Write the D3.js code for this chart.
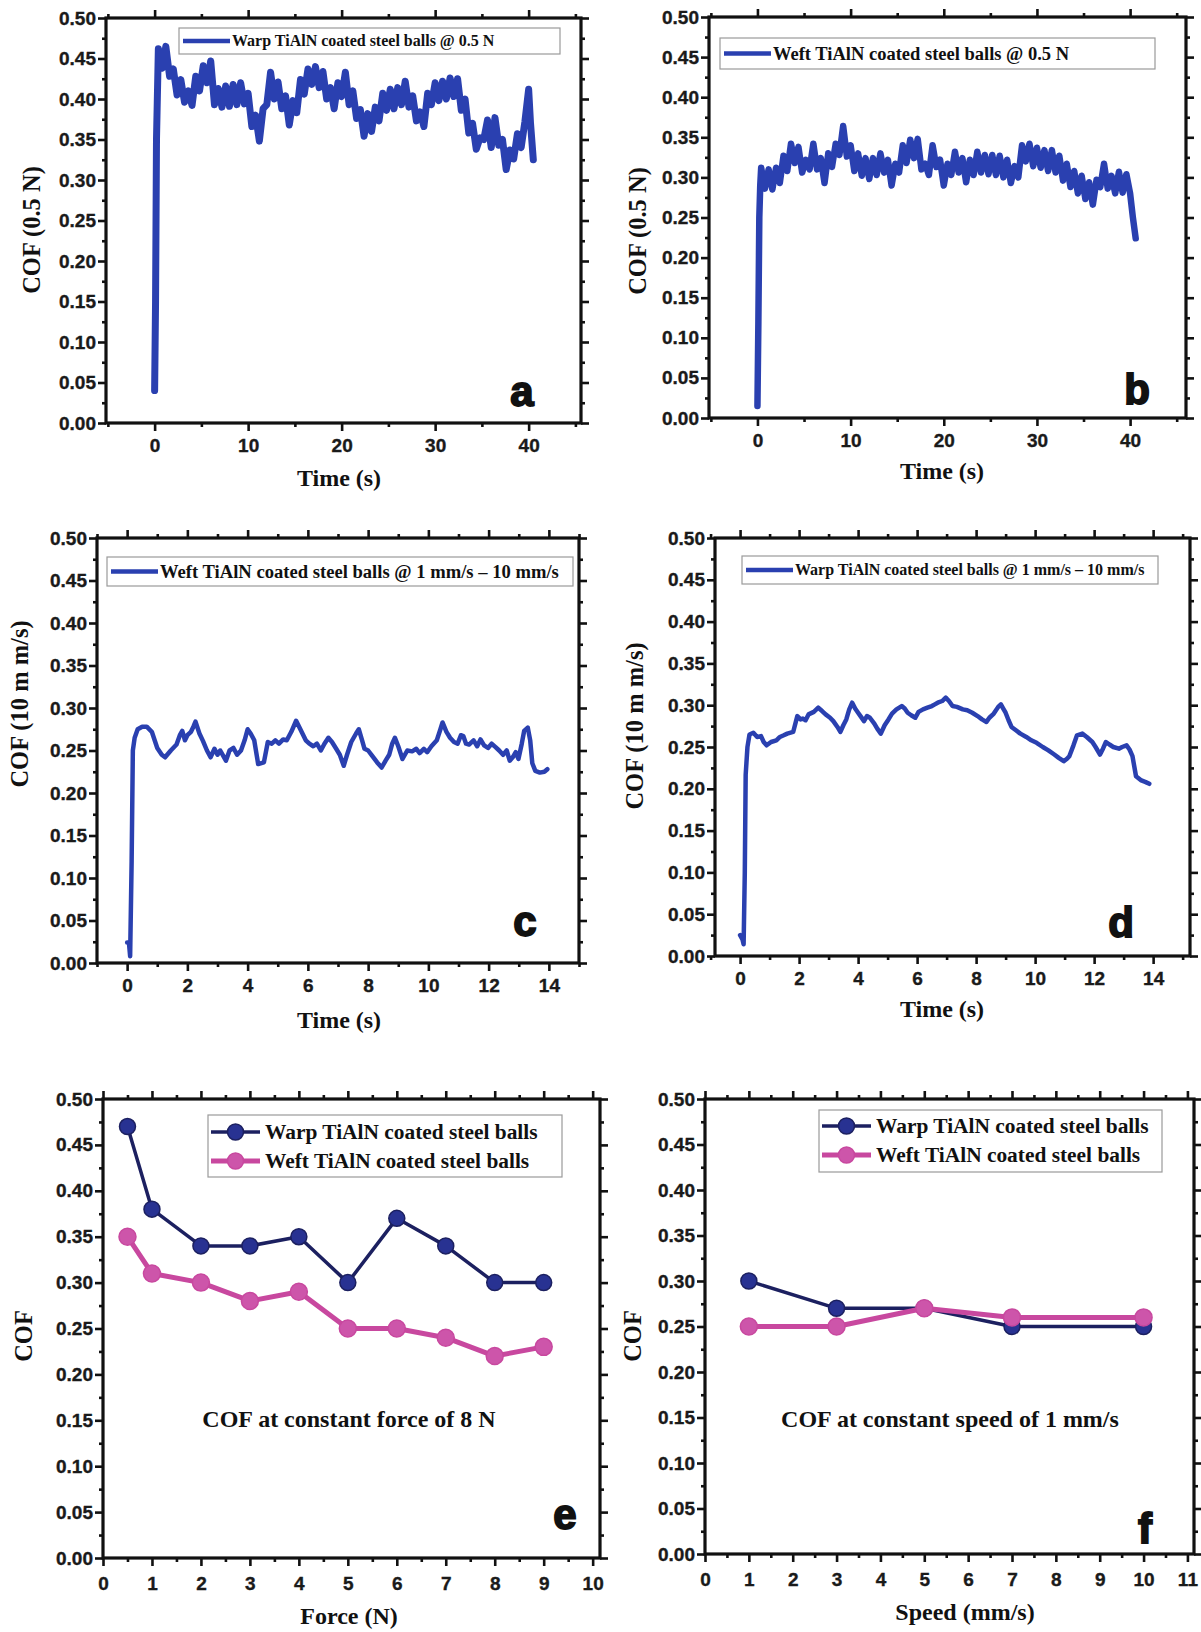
<!DOCTYPE html>
<html><head><meta charset="utf-8">
<script src="https://cdn.jsdelivr.net/npm/d3@7"></script>
<style>
html,body{margin:0;padding:0;background:#fff;}
svg{display:block;}
.tick text{font-family:"Liberation Sans",Arial,sans-serif;font-weight:bold;font-size:19px;fill:#1a1a1a;stroke:#1a1a1a;stroke-width:0.35px;}
.serif{font-family:"Liberation Serif","Times New Roman",serif;font-weight:bold;fill:#111;}
.letter{font-family:"Liberation Sans",Arial,sans-serif;font-weight:bold;fill:#111;stroke:#111;stroke-width:1.8px;}
</style></head><body>
<svg id="chart" width="1201" height="1632"></svg>
<script>
// ---------------- DATA ----------------
const yTickValues = [0,0.05,0.10,0.15,0.20,0.25,0.30,0.35,0.40,0.45,0.50];
const yMinorValues = [0.025,0.075,0.125,0.175,0.225,0.275,0.325,0.375,0.425,0.475];
const timeTicksLong = [0,10,20,30,40];
const timeMinorLong = [-5,5,15,25,35,45];
const timeTicksShort = [0,2,4,6,8,10,12,14];
const timeMinorShort = [-1,1,3,5,7,9,11,13,15];
const forceTicks = [0,1,2,3,4,5,6,7,8,9,10];
const forceMinor = [0.5,1.5,2.5,3.5,4.5,5.5,6.5,7.5,8.5,9.5];
const speedTicks = [0,1,2,3,4,5,6,7,8,9,10,11];
const speedMinor = [0.5,1.5,2.5,3.5,4.5,5.5,6.5,7.5,8.5,9.5,10.5];

// (a) Warp TiAlN @ 0.5 N : [time s, COF]
const warpHalfN = [[0,0.04],[0.1,0.15],[0.2,0.35],[0.4,0.462],[0.8,0.438],[1.2,0.465],[1.6,0.428],[2.0,0.437],[2.4,0.405],[2.8,0.424],[3.2,0.396],[3.6,0.410],[4.0,0.392],[4.4,0.428],[4.8,0.410],[5.2,0.441],[5.6,0.420],[6.0,0.447],[6.4,0.393],[6.8,0.413],[7.2,0.390],[7.6,0.416],[8.0,0.391],[8.4,0.418],[8.8,0.393],[9.2,0.420],[9.6,0.394],[10.0,0.407],[10.4,0.366],[10.8,0.380],[11.2,0.348],[11.6,0.388],[12.0,0.393],[12.4,0.433],[12.8,0.400],[13.2,0.421],[13.6,0.388],[14.0,0.404],[14.4,0.368],[14.8,0.398],[15.2,0.383],[15.6,0.424],[16.0,0.406],[16.4,0.437],[16.8,0.418],[17.2,0.440],[17.6,0.414],[18.0,0.434],[18.4,0.400],[18.8,0.414],[19.2,0.388],[19.6,0.420],[20.0,0.403],[20.4,0.433],[20.8,0.393],[21.2,0.410],[21.6,0.376],[22.0,0.387],[22.4,0.354],[22.8,0.382],[23.2,0.360],[23.6,0.390],[24.0,0.373],[24.4,0.407],[24.8,0.386],[25.2,0.412],[25.6,0.388],[26.0,0.414],[26.4,0.393],[26.8,0.422],[27.2,0.390],[27.6,0.404],[28.0,0.373],[28.4,0.384],[28.8,0.366],[29.2,0.407],[29.6,0.393],[30.0,0.420],[30.4,0.398],[30.8,0.422],[31.2,0.400],[31.6,0.426],[32.0,0.403],[32.4,0.425],[32.8,0.386],[33.2,0.400],[33.6,0.358],[34.0,0.370],[34.4,0.338],[34.8,0.352],[35.2,0.350],[35.6,0.374],[36.0,0.340],[36.4,0.377],[36.8,0.343],[37.2,0.350],[37.6,0.313],[38.0,0.337],[38.4,0.326],[38.8,0.357],[39.2,0.340],[39.6,0.372],[40.0,0.412],[40.2,0.370],[40.5,0.325]];

// (b) Weft TiAlN @ 0.5 N
const weftHalfN = [[0,0.015],[0.1,0.12],[0.2,0.25],[0.3,0.29],[0.4,0.312],[0.8,0.286],[1.2,0.310],[1.6,0.285],[2.0,0.312],[2.4,0.293],[2.8,0.327],[3.2,0.308],[3.6,0.342],[4.0,0.318],[4.4,0.338],[4.8,0.306],[5.2,0.322],[5.6,0.310],[6.0,0.342],[6.4,0.310],[6.8,0.324],[7.2,0.293],[7.6,0.330],[8.0,0.313],[8.4,0.342],[8.8,0.328],[9.2,0.364],[9.6,0.326],[10.0,0.340],[10.4,0.308],[10.8,0.330],[11.2,0.302],[11.6,0.324],[12.0,0.298],[12.4,0.324],[12.8,0.303],[13.2,0.330],[13.6,0.306],[14.0,0.322],[14.4,0.290],[14.8,0.317],[15.2,0.306],[15.6,0.340],[16.0,0.318],[16.4,0.347],[16.8,0.324],[17.2,0.348],[17.6,0.310],[18.0,0.317],[18.4,0.303],[18.8,0.340],[19.2,0.313],[19.6,0.322],[20.0,0.290],[20.4,0.317],[20.8,0.303],[21.2,0.332],[21.6,0.306],[22.0,0.324],[22.4,0.294],[22.8,0.322],[23.2,0.303],[23.6,0.332],[24.0,0.306],[24.4,0.328],[24.8,0.304],[25.2,0.328],[25.6,0.303],[26.0,0.327],[26.4,0.300],[26.8,0.322],[27.2,0.293],[27.6,0.314],[28.0,0.300],[28.4,0.340],[28.8,0.320],[29.2,0.342],[29.6,0.314],[30.0,0.337],[30.4,0.312],[30.8,0.334],[31.2,0.308],[31.6,0.334],[32.0,0.306],[32.4,0.327],[32.8,0.296],[33.2,0.317],[33.6,0.288],[34.0,0.308],[34.4,0.280],[34.8,0.302],[35.2,0.273],[35.6,0.294],[36.0,0.266],[36.4,0.297],[36.8,0.288],[37.2,0.317],[37.6,0.286],[38.0,0.302],[38.4,0.280],[38.8,0.307],[39.2,0.281],[39.6,0.304],[40.0,0.280],[40.3,0.250],[40.6,0.224]];

// (c) Weft TiAlN @ 1 mm/s - 10 mm/s
const weftSpeedSweep = [[0,0.024],[0.06,0.024],[0.1,0.008],[0.15,0.12],[0.19,0.25],[0.25,0.265],[0.35,0.275],[0.5,0.278],[0.65,0.278],[0.82,0.272],[1.0,0.253],[1.15,0.245],[1.26,0.242],[1.45,0.250],[1.64,0.257],[1.75,0.268],[1.83,0.273],[1.92,0.262],[2.0,0.268],[2.12,0.272],[2.2,0.278],[2.27,0.284],[2.4,0.270],[2.52,0.261],[2.65,0.250],[2.77,0.242],[2.9,0.252],[3.0,0.245],[3.09,0.250],[3.2,0.243],[3.28,0.238],[3.4,0.250],[3.53,0.253],[3.65,0.245],[3.78,0.250],[3.9,0.262],[4.0,0.275],[4.1,0.270],[4.22,0.262],[4.35,0.234],[4.54,0.236],[4.67,0.260],[4.8,0.258],[4.92,0.262],[5.04,0.258],[5.18,0.263],[5.3,0.262],[5.45,0.272],[5.61,0.285],[5.75,0.275],[5.93,0.262],[6.05,0.258],[6.18,0.255],[6.3,0.258],[6.43,0.250],[6.55,0.258],[6.68,0.265],[6.8,0.260],[6.94,0.252],[7.06,0.245],[7.19,0.232],[7.3,0.245],[7.44,0.260],[7.6,0.270],[7.69,0.275],[7.8,0.262],[7.88,0.252],[8.0,0.250],[8.13,0.244],[8.3,0.236],[8.45,0.230],[8.58,0.238],[8.7,0.245],[8.8,0.258],[8.89,0.265],[9.0,0.255],[9.14,0.240],[9.3,0.250],[9.46,0.249],[9.6,0.252],[9.71,0.247],[9.85,0.252],[9.96,0.248],[10.1,0.255],[10.28,0.262],[10.4,0.275],[10.47,0.283],[10.6,0.272],[10.72,0.265],[10.85,0.260],[10.97,0.258],[11.08,0.268],[11.16,0.267],[11.25,0.258],[11.35,0.257],[11.5,0.262],[11.62,0.255],[11.73,0.263],[11.85,0.256],[11.98,0.253],[12.1,0.258],[12.23,0.254],[12.35,0.250],[12.48,0.245],[12.6,0.250],[12.7,0.238],[12.8,0.242],[12.9,0.248],[12.99,0.240],[13.1,0.258],[13.18,0.273],[13.3,0.277],[13.38,0.262],[13.45,0.235],[13.55,0.226],[13.7,0.224],[13.85,0.225],[13.95,0.228]];

// (d) Warp TiAlN @ 1 mm/s - 10 mm/s
const warpSpeedSweep = [[0,0.025],[0.08,0.02],[0.12,0.014],[0.16,0.10],[0.19,0.217],[0.25,0.25],[0.32,0.265],[0.45,0.267],[0.58,0.262],[0.71,0.263],[0.8,0.256],[0.9,0.252],[1.05,0.256],[1.23,0.258],[1.35,0.262],[1.48,0.264],[1.6,0.266],[1.8,0.268],[1.94,0.287],[2.05,0.283],[2.13,0.284],[2.22,0.282],[2.32,0.289],[2.5,0.292],[2.65,0.297],[2.78,0.293],[2.9,0.289],[3.05,0.285],[3.16,0.281],[3.3,0.274],[3.4,0.268],[3.5,0.276],[3.6,0.283],[3.7,0.295],[3.8,0.303],[3.9,0.296],[4.0,0.291],[4.1,0.286],[4.2,0.281],[4.3,0.287],[4.4,0.285],[4.55,0.278],[4.65,0.272],[4.77,0.266],[4.9,0.276],[5.03,0.283],[5.15,0.290],[5.3,0.295],[5.48,0.299],[5.58,0.296],[5.68,0.291],[5.8,0.288],[5.94,0.285],[6.05,0.292],[6.2,0.295],[6.35,0.297],[6.5,0.299],[6.6,0.301],[6.7,0.303],[6.85,0.305],[6.97,0.309],[7.08,0.305],[7.2,0.299],[7.35,0.298],[7.55,0.295],[7.7,0.294],[7.87,0.291],[8.05,0.287],[8.2,0.283],[8.35,0.280],[8.45,0.285],[8.6,0.290],[8.75,0.298],[8.84,0.301],[8.92,0.296],[9.0,0.291],[9.1,0.282],[9.2,0.274],[9.35,0.270],[9.5,0.266],[9.7,0.262],[9.87,0.258],[10.05,0.255],[10.26,0.250],[10.45,0.246],[10.65,0.241],[10.8,0.237],[10.97,0.233],[11.08,0.236],[11.16,0.239],[11.3,0.252],[11.42,0.264],[11.6,0.266],[11.75,0.262],[11.94,0.256],[12.05,0.250],[12.2,0.241],[12.3,0.248],[12.4,0.256],[12.52,0.253],[12.65,0.250],[12.84,0.248],[12.95,0.250],[13.1,0.252],[13.2,0.247],[13.3,0.239],[13.42,0.215],[13.6,0.210],[13.75,0.208],[13.87,0.206]];

// (e) COF vs force
const forceN = [0.5,1,2,3,4,5,6,7,8,9];
const warpByForce = [0.47,0.38,0.34,0.34,0.35,0.30,0.37,0.34,0.30,0.30];
const weftByForce = [0.35,0.31,0.30,0.28,0.29,0.25,0.25,0.24,0.22,0.23];

// (f) COF vs speed
const speedMmS = [1,3,5,7,10];
const warpBySpeed = [0.30,0.27,0.27,0.25,0.25];
const weftBySpeed = [0.25,0.25,0.27,0.26,0.26];

// text
const legendA = "Warp TiAlN coated steel balls @ 0.5 N";
const legendB = "Weft TiAlN coated steel balls @ 0.5 N";
const legendC = "Weft TiAlN coated steel balls @ 1 mm/s \u2013 10 mm/s";
const legendD = "Warp TiAlN coated steel balls @ 1 mm/s \u2013 10 mm/s";
const legendWarp = "Warp TiAlN coated steel balls";
const legendWeft = "Weft TiAlN coated steel balls";

// ---------------- STYLE ----------------
const BLUE = "#2a40b0";
const NAVY = "#1c2060";
const NAVY_M = "#283292";
const PINK = "#c8489f";
const PINK_M = "#cd55aa";

const svg = d3.select("#chart");
svg.append("rect").attr("width",1201).attr("height",1632).attr("fill","#fff");

function panel(cfg){
  const g = svg.append("g");
  const x = d3.scaleLinear().domain(cfg.xDomain).range([cfg.l, cfg.r]);
  const y = d3.scaleLinear().domain([0,0.5]).range([cfg.b, cfg.t]);
  const addAxis = (fn, scale, vals, size, fmt, tx, ty, pad) => {
    const a = g.append("g").attr("transform",`translate(${tx},${ty})`)
      .call(fn(scale).tickValues(vals).tickSize(size).tickSizeOuter(0).tickPadding(pad).tickFormat(fmt));
    a.select(".domain").remove();
    a.selectAll(".tick line").attr("stroke","#111").attr("stroke-width",2.6);
    return a;
  };
  const none = () => "";
  addAxis(d3.axisBottom, x, cfg.xMajor, 8, d3.format("d"), 0, cfg.b, cfg.xPad);
  addAxis(d3.axisBottom, x, cfg.xMinor, 4, none, 0, cfg.b, 0);
  addAxis(d3.axisTop, x, cfg.xMajor, 8, none, 0, cfg.t, 0);
  addAxis(d3.axisTop, x, cfg.xMinor, 4, none, 0, cfg.t, 0);
  addAxis(d3.axisLeft, y, yTickValues, 8, d3.format(".2f"), cfg.l, 0, 2);
  addAxis(d3.axisLeft, y, yMinorValues, 4, none, cfg.l, 0, 0);
  addAxis(d3.axisRight, y, yTickValues, 8, none, cfg.r, 0, 0);
  addAxis(d3.axisRight, y, yMinorValues, 4, none, cfg.r, 0, 0);

  // frame
  g.append("rect").attr("x",cfg.l).attr("y",cfg.t).attr("width",cfg.r-cfg.l).attr("height",cfg.b-cfg.t)
    .attr("fill","none").attr("stroke","#111").attr("stroke-width",3.2);

  // titles
  g.append("text").attr("class","serif").attr("font-size",24.5)
    .attr("transform",`translate(${cfg.yLabelX},${cfg.yLabelY}) rotate(-90)`)
    .attr("text-anchor","middle").attr("dy","0.35em").text(cfg.yLabel);
  g.append("text").attr("class","serif").attr("font-size",24)
    .attr("x",cfg.xLabelX).attr("y",cfg.xLabelY).attr("text-anchor","middle").text(cfg.xLabel);

  // panel letter
  g.append("text").attr("class","letter").attr("font-size",42)
    .attr("x",cfg.letter[0]).attr("y",cfg.letter[1]).attr("text-anchor","middle").text(cfg.letter[2]);

  return {g,x,y};
}

function timePanel(cfg, series, legendText, lw){
  const {g,x,y} = panel(cfg);
  const line = d3.line().x(d=>x(d[0])).y(d=>y(d[1]));
  const L = cfg.legend;
  g.append("rect").attr("x",L.x).attr("y",L.y).attr("width",L.w).attr("height",L.h)
    .attr("fill","#fff").attr("stroke","#9a9a9a").attr("stroke-width",1.2);
  g.append("path").datum(series).attr("d",line).attr("fill","none")
    .attr("stroke",BLUE).attr("stroke-width",lw).attr("stroke-linejoin","round").attr("stroke-linecap","round");
  g.append("line").attr("x1",L.x+4).attr("x2",L.x+4+L.len).attr("y1",L.y+L.h/2).attr("y2",L.y+L.h/2)
    .attr("stroke",BLUE).attr("stroke-width",4.5);
  g.append("text").attr("class","serif").attr("font-size",L.fs)
    .attr("x",L.x+6+L.len).attr("y",L.y+L.h/2).attr("dy","0.33em").text(legendText);
}

function pointPanel(cfg, xs, warp, weft, note){
  const {g,x,y} = panel(cfg);
  const warpPts = xs.map((v,i)=>[v,warp[i]]);
  const weftPts = xs.map((v,i)=>[v,weft[i]]);
  const line = d3.line().x(d=>x(d[0])).y(d=>y(d[1]));
  g.append("path").datum(warpPts).attr("d",line).attr("fill","none").attr("stroke",NAVY).attr("stroke-width",3.5).attr("stroke-linejoin","round");
  g.selectAll(null).data(warpPts).enter().append("circle").attr("cx",d=>x(d[0])).attr("cy",d=>y(d[1])).attr("r",8)
    .attr("fill",NAVY_M).attr("stroke",NAVY).attr("stroke-width",1.5);
  g.append("path").datum(weftPts).attr("d",line).attr("fill","none").attr("stroke",PINK).attr("stroke-width",5).attr("stroke-linejoin","round");
  g.selectAll(null).data(weftPts).enter().append("circle").attr("cx",d=>x(d[0])).attr("cy",d=>y(d[1])).attr("r",8.5)
    .attr("fill",PINK_M).attr("stroke",PINK).attr("stroke-width",1.5);
  const L = cfg.legend;
  g.append("rect").attr("x",L.x).attr("y",L.y).attr("width",L.w).attr("height",L.h)
    .attr("fill","#fff").attr("stroke","#9a9a9a").attr("stroke-width",1.2);
  [[legendWarp,NAVY,NAVY_M,3.5,L.y1],[legendWeft,PINK,PINK_M,5,L.y2]].forEach(([t,c,m,w,yy])=>{
    g.append("line").attr("x1",L.x+3).attr("x2",L.x+3+L.len).attr("y1",yy).attr("y2",yy).attr("stroke",c).attr("stroke-width",w);
    g.append("circle").attr("cx",L.x+3+L.len/2).attr("cy",yy).attr("r",8).attr("fill",m).attr("stroke",c).attr("stroke-width",1.5);
    g.append("text").attr("class","serif").attr("font-size",21.4).attr("x",L.x+8+L.len).attr("y",yy).attr("dy","0.33em").text(t);
  });
  g.append("text").attr("class","serif").attr("font-size",24).attr("x",cfg.note[0]).attr("y",cfg.note[1])
    .attr("text-anchor","middle").text(note);
}

timePanel({l:106,r:581,t:18,b:423,xDomain:[-5.2,45.6],xMajor:timeTicksLong,xMinor:timeMinorLong,xPad:8,
  yLabel:"COF (0.5 N)",yLabelX:31,yLabelY:230,xLabel:"Time (s)",xLabelX:339,xLabelY:486,letter:[522,406,"a"],
  legend:{x:179,y:28,w:381,h:26,len:47,fs:16}}, warpHalfN, legendA, 7);

timePanel({l:709,r:1186,t:17,b:418,xDomain:[-5.2,46.0],xMajor:timeTicksLong,xMinor:timeMinorLong,xPad:8,
  yLabel:"COF (0.5 N)",yLabelX:637,yLabelY:231,xLabel:"Time (s)",xLabelX:942,xLabelY:479,letter:[1137,404,"b"],
  legend:{x:720,y:38,w:435,h:31,len:47,fs:18.5}}, weftHalfN, legendB, 6.5);

timePanel({l:97,r:579,t:538,b:963,xDomain:[-1,15],xMajor:timeTicksShort,xMinor:timeMinorShort,xPad:8,
  yLabel:"COF (10 m m/s)",yLabelX:19,yLabelY:704,xLabel:"Time (s)",xLabelX:339,xLabelY:1028,letter:[525,936,"c"],
  legend:{x:107,y:557,w:466,h:29,len:47,fs:18.6}}, weftSpeedSweep, legendC, 4.5);

timePanel({l:715,r:1190,t:538,b:956,xDomain:[-0.85,15.25],xMajor:timeTicksShort,xMinor:timeMinorShort,xPad:8,
  yLabel:"COF (10 m m/s)",yLabelX:634,yLabelY:726,xLabel:"Time (s)",xLabelX:942,xLabelY:1017,letter:[1121,937,"d"],
  legend:{x:742,y:556,w:416,h:28,len:47,fs:16}}, warpSpeedSweep, legendD, 4.5);

pointPanel({l:103,r:600,t:1099,b:1558,xDomain:[0,10.15],xMajor:forceTicks,xMinor:forceMinor,xPad:11,
  yLabel:"COF",yLabelX:23,yLabelY:1336,xLabel:"Force (N)",xLabelX:349,xLabelY:1624,letter:[565,1529,"e"],
  legend:{x:208,y:1115,w:354,h:62,len:49,y1:1132,y2:1161},note:[349,1427]},
  forceN, warpByForce, weftByForce, "COF at constant force of 8 N");

pointPanel({l:705,r:1194,t:1099,b:1554,xDomain:[0,11.15],xMajor:speedTicks,xMinor:speedMinor,xPad:11,
  yLabel:"COF",yLabelX:632,yLabelY:1336,xLabel:"Speed (mm/s)",xLabelX:965,xLabelY:1620,letter:[1145,1543,"f"],
  legend:{x:819,y:1110,w:343,h:62,len:49,y1:1126,y2:1155},note:[950,1427]},
  speedMmS, warpBySpeed, weftBySpeed, "COF at constant speed of 1 mm/s");
</script></body></html>
